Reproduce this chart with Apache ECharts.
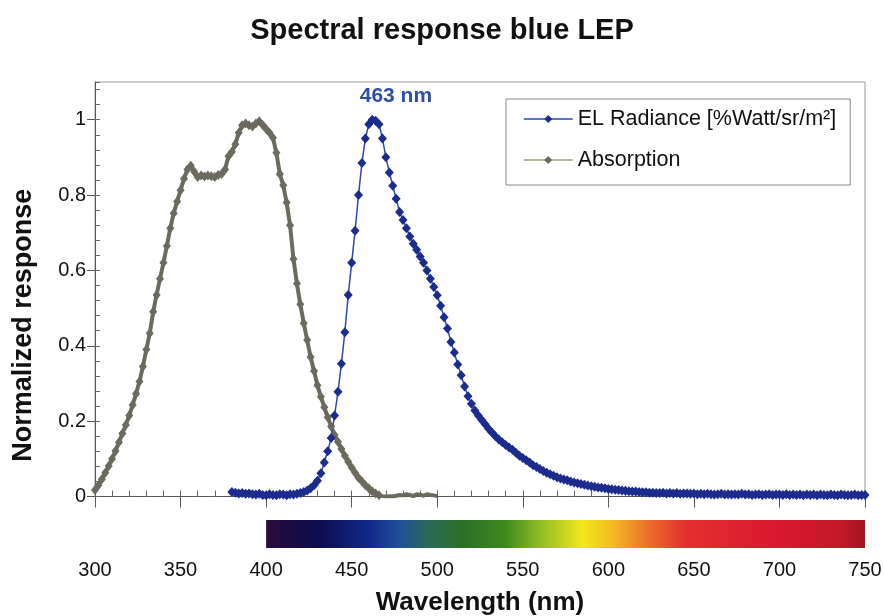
<!DOCTYPE html>
<html>
<head>
<meta charset="utf-8">
<title>Spectral response blue LEP</title>
<script src="https://cdn.jsdelivr.net/npm/echarts@6/dist/echarts.min.js"></script>
<style>
  html, body { margin: 0; padding: 0; background: #fff; }
  #chart { width: 884px; height: 616px; }
</style>
</head>
<body>
<div id="chart"></div>
<script>
// EL radiance, sampled every 2 nm from 380 to 750 nm
const elStart = 380;
const elStep = 2;
const elValues = [
  0.012, 0.010, 0.008, 0.009, 0.007, 0.008, 0.006, 0.005, 0.007, 0.004,
  0.003, 0.006, 0.004, 0.003, 0.006, 0.005, 0.003, 0.006, 0.005, 0.007,
  0.009, 0.012, 0.016, 0.022, 0.030, 0.042, 0.062, 0.090, 0.120, 0.155,
  0.215, 0.278, 0.352, 0.436, 0.535, 0.620, 0.705, 0.800, 0.885, 0.950,
  0.988, 1.000, 0.997, 0.988, 0.950, 0.900, 0.860, 0.825, 0.790, 0.755,
  0.734, 0.712, 0.690, 0.671, 0.655, 0.637, 0.620, 0.600, 0.578, 0.556,
  0.534, 0.506, 0.476, 0.446, 0.410, 0.382, 0.350, 0.322, 0.292, 0.266,
  0.246, 0.228, 0.215, 0.203, 0.192, 0.180, 0.170, 0.160, 0.151, 0.144,
  0.137, 0.130, 0.124, 0.116, 0.108, 0.102, 0.096, 0.090, 0.083, 0.078,
  0.073, 0.068, 0.063, 0.059, 0.055, 0.051, 0.048, 0.045, 0.043, 0.040,
  0.037, 0.035, 0.033, 0.031, 0.029, 0.027, 0.026, 0.024, 0.023, 0.022,
  0.020, 0.019, 0.018, 0.017, 0.016, 0.015, 0.014, 0.013, 0.013, 0.012,
  0.011, 0.011, 0.010, 0.010, 0.009, 0.009, 0.010, 0.008, 0.009, 0.008,
  0.009, 0.007, 0.008, 0.008, 0.007, 0.008, 0.006, 0.007, 0.006, 0.007,
  0.006, 0.005, 0.006, 0.007, 0.005, 0.006, 0.005, 0.006, 0.005, 0.007,
  0.005, 0.006, 0.004, 0.005, 0.006, 0.004, 0.005, 0.006, 0.004, 0.005,
  0.005, 0.004, 0.006, 0.004, 0.005, 0.004, 0.005, 0.003, 0.005, 0.004,
  0.005, 0.003, 0.005, 0.004, 0.003, 0.005, 0.004, 0.003, 0.005, 0.004,
  0.003, 0.004, 0.005, 0.003, 0.004, 0.004
];

// absorption, every 2 nm from 300 nm; the tail after 466 nm has no markers
const absStart = 300;
const absStep = 2;
const absValues = [
  0.017, 0.030, 0.046, 0.063, 0.081, 0.100, 0.121, 0.144, 0.167, 0.190,
  0.215, 0.243, 0.273, 0.305, 0.345, 0.390, 0.433, 0.490, 0.535, 0.578,
  0.620, 0.665, 0.712, 0.752, 0.783, 0.813, 0.843, 0.868, 0.878, 0.862,
  0.848, 0.852, 0.849, 0.852, 0.850, 0.848, 0.853, 0.856, 0.868, 0.903,
  0.915, 0.935, 0.965, 0.985, 0.990, 0.985, 0.982, 0.990, 0.996, 0.986,
  0.975, 0.965, 0.952, 0.912, 0.856, 0.826, 0.780, 0.720, 0.630, 0.565,
  0.510, 0.460, 0.415, 0.370, 0.333, 0.295, 0.265, 0.237, 0.210, 0.186,
  0.163, 0.145, 0.126, 0.108, 0.092, 0.077, 0.063, 0.050, 0.040, 0.030,
  0.022, 0.014, 0.008, 0.003
];
const absTailValues = [
  0.001, 0.000, 0.001, 0.000, 0.002, 0.004, 0.003, 0.006, 0.004, 0.001,
  0.006, 0.005, 0.002, 0.006, 0.004, 0.003, 0.001
];

const peakWavelength = 463;
const seriesNames = ["EL Radiance [%Watt/sr/m\u00b2]", "Absorption"];

// colour band under the axis (nm, colour)
const spectrumRange = [400, 750];
const spectrumStops = [
  [400, "#2c0a3c"], [430, "#0c0c4e"], [460, "#13288a"], [478, "#1f4f9a"],
  [495, "#2a6a56"], [515, "#2b7026"], [540, "#3f8a1e"], [560, "#90bc22"],
  [585, "#f2e81c"], [605, "#f3b222"], [625, "#ea6a2a"], [645, "#e2302e"],
  [700, "#d81830"], [735, "#c4182a"], [750, "#a21422"]
];

const font = "'Liberation Sans', Arial, sans-serif";

function toPoints(start, step, values) {
  return values.map((v, i) => [start + i * step, v]);
}

function buildOption() {
  const elData = toPoints(elStart, elStep, elValues);
  const absData = toPoints(absStart, absStep, absValues);
  const tailStart = absStart + absValues.length * absStep;
  toPoints(tailStart, absStep, absTailValues).forEach((p) => {
    absData.push({ value: p, symbol: "none", lineStyle: { width: 1 } });
  });

  const [s0, s1] = spectrumRange;
  const gradient = spectrumStops.map(([nm, color]) => ({
    offset: (nm - s0) / (s1 - s0),
    color,
  }));

  return {
    animation: false,
    backgroundColor: "#fff",
    textStyle: { fontFamily: font },
    title: {
      text: "Spectral response blue LEP",
      left: "center",
      top: 11,
      textStyle: { fontSize: 29, fontWeight: "bold", color: "#111", fontFamily: font },
    },
    legend: {
      data: [
        { name: seriesNames[0], lineStyle: { width: 1.5 } },
        { name: seriesNames[1], lineStyle: { width: 1.5, color: "#a39c72" } },
      ],
      orient: "vertical",
      left: 506,
      top: 99,
      padding: [9, 14, 14, 17],
      itemWidth: 49,
      itemHeight: 10,
      itemGap: 19,
      borderColor: "#888",
      borderWidth: 1,
      textStyle: { fontSize: 21.5, color: "#111", fontFamily: font },
    },
    grid: [
      {
        left: 95, right: 19, top: 82, bottom: 119.5,
        outerBoundsMode: "none",
        show: true, borderColor: "#999", borderWidth: 1,
      },
      { left: 95, right: 19, top: 520, height: 28, outerBoundsMode: "none" },
    ],
    xAxis: [
      {
        type: "value", gridIndex: 0, position: "bottom",
        min: 300, max: 750, interval: 50,
        axisLine: { lineStyle: { color: "#555" } },
        axisTick: { length: 11, lineStyle: { color: "#555" } },
        axisLabel: { margin: 64, fontSize: 20, color: "#111", fontFamily: font },
        splitLine: { show: false },
        name: "Wavelength (nm)",
        nameLocation: "middle",
        nameGap: 93,
        nameTextStyle: { fontSize: 26, fontWeight: "bold", color: "#111", fontFamily: font },
      },
      {
        type: "value", gridIndex: 0, position: "bottom",
        min: 300, max: 750, interval: 10,
        axisLine: { show: false },
        axisTick: { inside: true, length: 6, lineStyle: { color: "#666" } },
        axisLabel: { show: false },
        splitLine: { show: false },
      },
      { type: "value", gridIndex: 1, min: 300, max: 750, show: false },
    ],
    yAxis: [
      {
        type: "value", gridIndex: 0, position: "left",
        min: 0, max: 1.1, interval: 0.2,
        axisLine: { show: true, lineStyle: { color: "#555" } },
        axisTick: { show: true, length: 8, lineStyle: { color: "#555" } },
        axisLabel: { margin: 9, fontSize: 20, color: "#111", showMaxLabel: false, fontFamily: font },
        splitLine: { show: false },
        name: "Normalized response",
        nameLocation: "middle",
        nameGap: 58,
        nameTextStyle: {
          fontSize: 27, fontWeight: "bold", color: "#111", fontFamily: font,
          padding: [0, 72, 0, 0],
        },
      },
      {
        type: "value", gridIndex: 0, position: "left",
        min: 0, max: 1.1, interval: 0.04,
        axisLine: { show: false },
        axisTick: { inside: true, length: 5, lineStyle: { color: "#666" } },
        axisLabel: { show: false },
        splitLine: { show: false },
      },
      { type: "value", gridIndex: 1, min: 0, max: 1, show: false },
    ],
    series: [
      {
        name: seriesNames[1],
        type: "line",
        xAxisIndex: 0,
        yAxisIndex: 0,
        data: absData,
        symbol: "diamond",
        symbolSize: [8, 10],
        itemStyle: { color: "#6b6a5c" },
        lineStyle: { color: "#6b6a5c", width: 4 },
      },
      {
        name: seriesNames[0],
        type: "line",
        xAxisIndex: 0,
        yAxisIndex: 0,
        data: elData,
        symbol: "diamond",
        symbolSize: [9, 10],
        itemStyle: { color: "#1c2c8e" },
        lineStyle: { color: "#2a48b4", width: 1.5 },
        markPoint: {
          symbol: "circle",
          symbolSize: 0,
          data: [{ coord: [peakWavelength, Math.max(...elValues)], value: peakWavelength }],
          label: {
            show: true,
            formatter: "{c} nm",
            offset: [22, -23],
            fontSize: 21,
            fontWeight: "bold",
            color: "#2d4fa5",
            fontFamily: font,
          },
        },
      },
      {
        type: "custom",
        xAxisIndex: 2,
        yAxisIndex: 2,
        data: [spectrumRange],
        silent: true,
        renderItem: (params, api) => {
          const p0 = api.coord([api.value(0), 1]);
          const p1 = api.coord([api.value(1), 0]);
          return {
            type: "rect",
            shape: { x: p0[0], y: p0[1], width: p1[0] - p0[0], height: p1[1] - p0[1] },
            style: { fill: new echarts.graphic.LinearGradient(0, 0, 1, 0, gradient) },
          };
        },
      },
    ],
  };
}

const chartInstance = echarts.init(document.getElementById("chart"));
chartInstance.setOption(buildOption());
window.addEventListener("resize", () => chartInstance.resize());
</script>
</body>
</html>
